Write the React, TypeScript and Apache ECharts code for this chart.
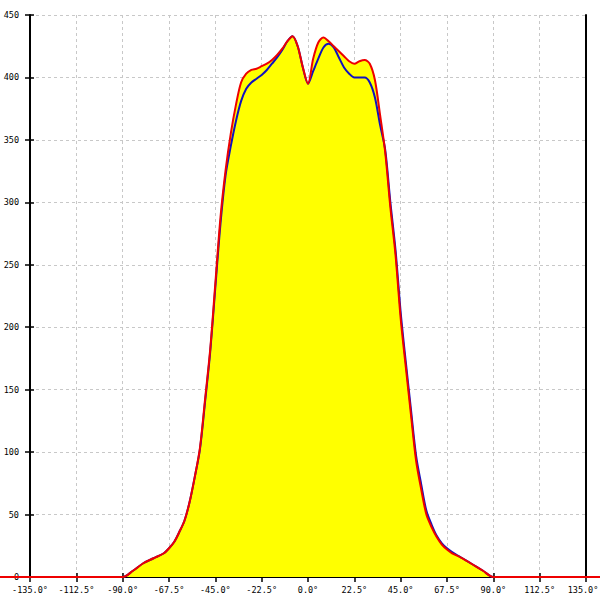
import React, { useEffect, useRef } from "react";
import * as echarts from "echarts";

const angles = [
  -180, -90, -85, -80, -75, -70, -67.5, -65, -62.5, -60, -57.5, -55, -52.5, -50, -47.5, -45, -42.5, -40,
  -37.5, -35, -32.5, -30, -27.5, -25, -22.5, -20, -17.5, -15, -12.5, -10, -7.5, -5, -2.5, 0, 2.5, 5, 7.5,
  10, 12.5, 15, 17.5, 20, 22.5, 25, 27.5, 30, 32.5, 35, 37.5, 40, 42.5, 45, 47.5, 50, 52.5, 55, 57.5, 60,
  62.5, 65, 67.5, 70, 75, 80, 85, 90, 180,
];

const redValues = [
  0, 0, 5, 11, 15, 19, 23, 28, 36, 45, 60, 80, 103, 142, 182, 235, 288, 326,
  355, 378, 396, 403, 406, 407, 409, 411, 414, 418, 423, 429, 433, 425, 408, 395, 415, 428, 432,
  429, 425, 421, 417, 413, 411, 413, 414, 411, 398, 370, 340, 296, 258, 207, 168, 130, 93, 70, 50, 40,
  32, 26, 22, 19, 15, 10, 5, 0, 0,
];

const blueValues = [
  0, 0, 5, 11, 15, 19, 23, 28, 36, 45, 60, 80, 102, 140, 180, 232, 283, 322,
  345, 365, 381, 391, 396, 399, 402, 406, 411, 416, 422, 429, 433, 425, 408, 395, 405, 415, 424,
  427, 424, 416, 408, 403, 400, 400, 400, 396, 384, 362, 342, 300, 262, 212, 172, 134, 97, 74, 53, 42,
  33, 27, 23, 20, 15, 10, 5, 0, 0,
];

const xTicks = { min: -135, max: 135, interval: 22.5 };
const yTicks = { min: 0, max: 450, interval: 50 };

export default function App() {
  const ref = useRef<HTMLDivElement>(null);
  useEffect(() => {
    if (!ref.current) return;
    const chart = echarts.init(ref.current, null, { renderer: "svg" });
    const red = angles.map((a, i) => [a, redValues[i]]);
    const blue = angles.map((a, i) => [a, blueValues[i]]);
    const font = "DejaVu Sans Mono";
    const W = 600;
    const left = 30;
    const right = 14;
    const degPerPx = (xTicks.max - xTicks.min) / (W - left - right);
    const fullMin = xTicks.min - left * degPerPx;
    const fullMax = xTicks.max + right * degPerPx;
    chart.setOption({
      animation: false,
      backgroundColor: "#ffffff",
      grid: [
        { left, right, top: 15, bottom: 23, outerBoundsMode: "none", containLabel: false },
        { left: 0, right: 0, top: 15, bottom: 23, outerBoundsMode: "none", containLabel: false },
      ],
      xAxis: [
        {
          type: "value",
          gridIndex: 0,
          ...xTicks,
          axisLine: { show: true, onZero: false, lineStyle: { color: "#000", width: 2 } },
          axisTick: { show: true, length: 5, lineStyle: { color: "#000", width: 1.5 } },
          axisLabel: {
            color: "#000",
            fontFamily: font,
            fontSize: 8.5,
            margin: 8,
            hideOverlap: false,
            formatter: (v: number) => {
              const s = v.toFixed(1) + "\u00b0";
              return v >= xTicks.max ? "{last|" + s + "}" : s;
            },
            rich: {
              last: {
                color: "#000",
                fontFamily: font,
                fontSize: 8.5,
                padding: [0, 6, 0, 0],
              },
            },
          },
          splitLine: { show: true, lineStyle: { color: "#c8c8c8", type: [3, 3], width: 1 } },
        },
        {
          type: "value",
          gridIndex: 0,
          position: "bottom",
          ...xTicks,
          axisLine: { show: false, onZero: false },
          axisTick: { show: true, inside: true, length: 4, lineStyle: { color: "#000", width: 1.5 } },
          axisLabel: { show: false },
          splitLine: { show: false },
        },
        {
          type: "value",
          gridIndex: 1,
          min: fullMin,
          max: fullMax,
          show: false,
        },
      ],
      yAxis: [
        {
          type: "value",
          gridIndex: 0,
          ...yTicks,
          axisLine: { show: true, onZero: false, lineStyle: { color: "#000", width: 2 } },
          axisTick: { show: true, length: 5, lineStyle: { color: "#000", width: 1.5 } },
          axisLabel: { color: "#000", fontFamily: font, fontSize: 8.5, margin: 11 },
          splitLine: { show: true, lineStyle: { color: "#c8c8c8", type: [3, 3], width: 1 } },
        },
        {
          type: "value",
          gridIndex: 0,
          position: "left",
          ...yTicks,
          axisLine: { show: false, onZero: false },
          axisTick: { show: true, inside: true, length: 4, lineStyle: { color: "#000", width: 1.5 } },
          axisLabel: { show: false },
          splitLine: { show: false },
        },
        {
          type: "value",
          gridIndex: 0,
          position: "right",
          ...yTicks,
          axisLine: { show: true, onZero: false, lineStyle: { color: "#000", width: 2 } },
          axisTick: { show: false },
          axisLabel: { show: false },
          splitLine: { show: false },
        },
        {
          type: "value",
          gridIndex: 1,
          ...yTicks,
          show: false,
        },
      ],
      series: [
        {
          type: "line",
          xAxisIndex: 0,
          yAxisIndex: 0,
          data: red,
          smooth: 0.3,
          showSymbol: false,
          lineStyle: { width: 0, color: "#ffff00" },
          areaStyle: { color: "#ffff00", opacity: 1, origin: 0 },
          z: 2,
        },
        {
          type: "line",
          xAxisIndex: 0,
          yAxisIndex: 0,
          data: blue,
          smooth: 0.3,
          showSymbol: false,
          lineStyle: { width: 2, color: "#1010c0" },
          z: 3,
        },
        {
          type: "line",
          xAxisIndex: 2,
          yAxisIndex: 3,
          data: red,
          smooth: 0.3,
          showSymbol: false,
          lineStyle: { width: 2, color: "#ee0000" },
          z: 4,
        },
      ],
    });
    return () => chart.dispose();
  }, []);
  return (
    <div
      ref={ref}
      style={{ position: "fixed", left: 0, top: 0, width: 600, height: 600, background: "#fff" }}
    />
  );
}
